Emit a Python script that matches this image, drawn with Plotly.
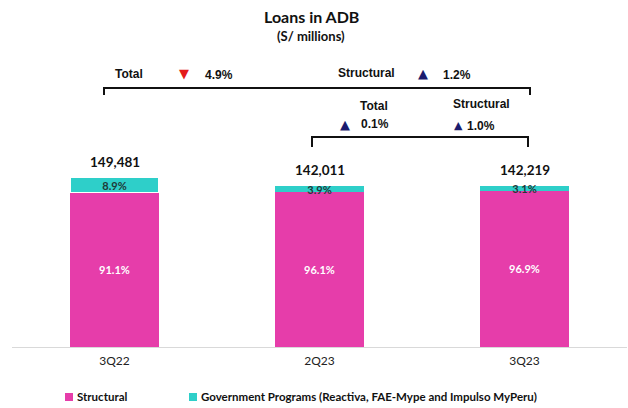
import plotly.graph_objects as go

# ---- data -------------------------------------------------------------
quarters = ["3Q22", "2Q23", "3Q23"]
totals = [149481, 142011, 142219]            # S/ millions
structural_pct = [91.1, 96.1, 96.9]          # share of total, %
government_pct = [8.9, 3.9, 3.1]             # share of total, %
series_names = ["Structural", "Government Programs (Reactiva, FAE-Mype and Impulso MyPeru)"]

structural_vals = [t * p / 100 for t, p in zip(totals, structural_pct)]
government_vals = [t * p / 100 for t, p in zip(totals, government_pct)]

PINK = "#E63DAA"
TEAL = "#2ECFC9"
NAVY = "#1B1B6E"
RED = "#E31A1A"
LABEL_FONT = "Lato, Carlito, sans-serif"

W, H = 628, 408
M_L, M_R, M_T, M_B = 12, 1, 50, 61
PLOT_H = H - M_T - M_B
PLOT_BOTTOM = H - M_B


def py(ypix):
    """Pixel row -> paper y."""
    return (PLOT_BOTTOM - ypix) / PLOT_H


def px(xpix):
    """Pixel column -> paper x."""
    return (xpix - M_L) / (W - M_L - M_R)


fig = go.Figure()

fig.add_bar(
    x=quarters, y=structural_vals, name=series_names[0],
    marker=dict(color=PINK, line=dict(width=0)),
    text=[f"<b>{p:.1f}%</b>" for p in structural_pct],
    textposition="inside", insidetextanchor="middle",
    textfont=dict(family=LABEL_FONT, size=11, color="white"),
    showlegend=False, hoverinfo="skip",
)
fig.add_bar(
    x=quarters, y=government_vals, name=series_names[1],
    marker=dict(color=TEAL, line=dict(width=[1.5, 0, 0], color="white")),
    text=[f"<b>{p:.1f}%</b>" for p in government_pct],
    textposition="inside", insidetextanchor="middle",
    textfont=dict(family=LABEL_FONT, size=11, color="#1F3A3A"),
    showlegend=False, hoverinfo="skip",
)

# total labels above the stacks
for q, t in zip(quarters, totals):
    fig.add_annotation(
        x=q, y=t, xref="x", yref="y", text=f"<b>{t:,}</b>",
        showarrow=False, xanchor="center", yanchor="bottom", yshift=6,
        font=dict(family=LABEL_FONT, size=13.5, color="#111111"),
    )


def note(xp, yp, txt, color="#111111", size=12,
         family="Liberation Sans, Arial, sans-serif", xanchor="center"):
    fig.add_annotation(x=px(xp), y=py(yp), xref="paper", yref="paper",
                       text=txt, showarrow=False, xanchor=xanchor, yanchor="middle",
                       font=dict(family=family, size=size, color=color))


# title
note(311, 17, "<b>Loans in ADB</b>", size=16, family=LABEL_FONT)
note(311, 36, "<b>(S/ millions)</b>", size=13, family=LABEL_FONT)


def tri(xp, yp, up=True, size=13):
    note(xp, yp, "▲" if up else "▼", color=NAVY if up else RED, size=size,
         family="DejaVu Sans, sans-serif")


def bracket(x0, x1, ytop, ybot):
    path = (f"M {px(x0)} {py(ybot)} L {px(x0)} {py(ytop)} "
            f"L {px(x1)} {py(ytop)} L {px(x1)} {py(ybot)}")
    fig.add_shape(type="path", path=path, xref="paper", yref="paper",
                  line=dict(color="#111111", width=2))


bracket(104, 530, 88, 95)
bracket(312, 528, 137, 147)

note(129, 74, "<b>Total</b>")
tri(184, 73, up=False)
note(219, 75, "<b>4.9%</b>")
note(366, 73, "<b>Structural</b>")
tri(423, 74)
note(457, 75, "<b>1.2%</b>")

note(374, 106, "<b>Total</b>")
tri(345, 125)
note(375, 124, "<b>0.1%</b>")
note(481, 104, "<b>Structural</b>")
tri(458, 126, size=11)
note(481, 126, "<b>1.0%</b>")

# legend: colour swatch followed by series name
for name, col, x_sw in zip(series_names, [PINK, TEAL], [65, 189]):
    fig.add_shape(type="rect", xref="paper", yref="paper",
                  x0=px(x_sw), x1=px(x_sw + 8), y0=py(401), y1=py(393),
                  fillcolor=col, line=dict(width=0))
    note(x_sw + 10, 396.5, f"<b>{name}</b>", size=11.5, family=LABEL_FONT,
         xanchor="left")

fig.update_layout(
    width=W, height=H,
    margin=dict(l=M_L, r=M_R, t=M_T, b=M_B, autoexpand=False),
    barmode="stack", bargap=0.566,
    plot_bgcolor="white", paper_bgcolor="white",
    showlegend=False,
    uniformtext=dict(minsize=11, mode="show"),
    xaxis=dict(range=[-0.5, 2.5], showline=True, linecolor="#D9D9D9", linewidth=1,
               ticks="", showgrid=False, zeroline=False, fixedrange=True,
               ticklabelstandoff=3,
               tickfont=dict(family=LABEL_FONT, size=12, color="#222222")),
    yaxis=dict(range=[0, 262000], visible=False, showgrid=False, zeroline=False,
               fixedrange=True),
)

fig.write_html("out.html")
